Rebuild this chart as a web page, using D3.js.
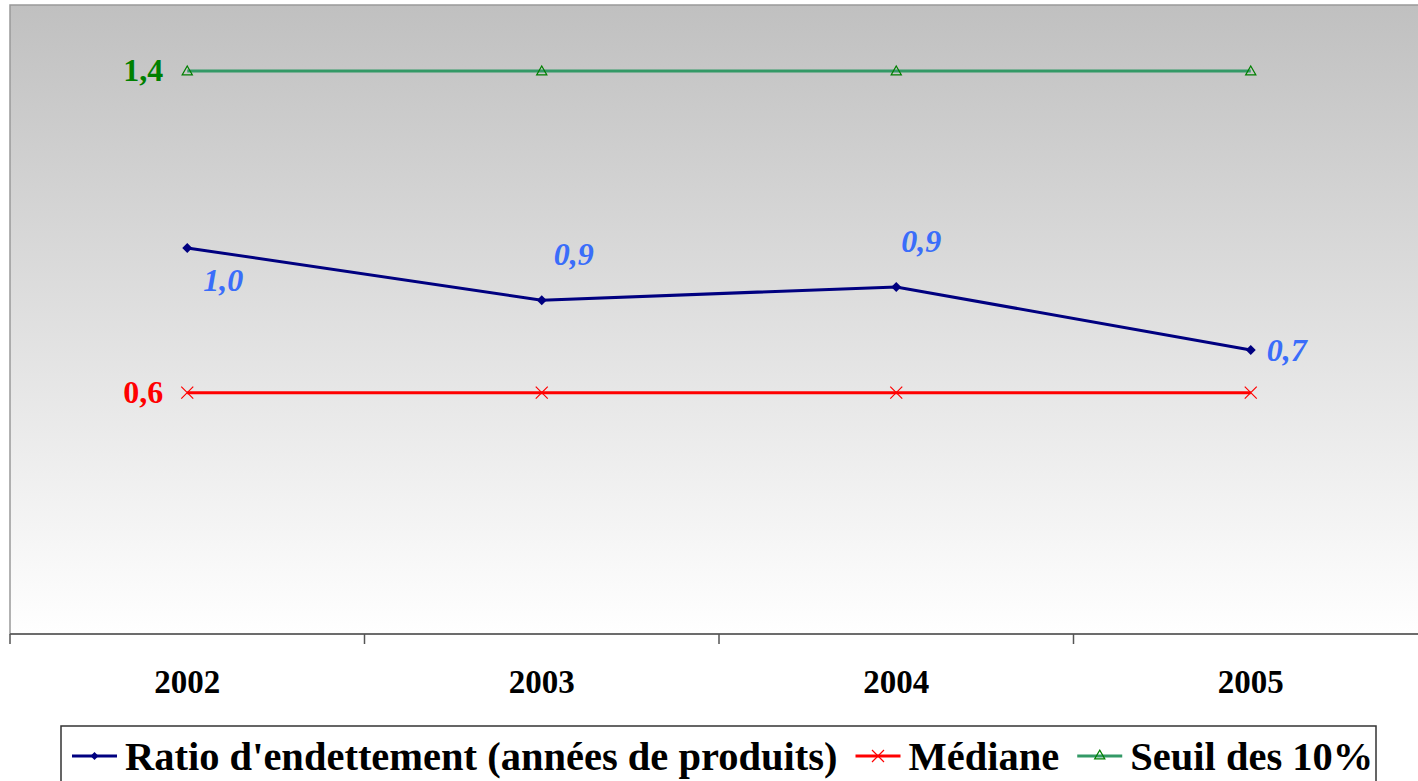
<!DOCTYPE html>
<html>
<head>
<meta charset="utf-8">
<script src="https://cdn.jsdelivr.net/npm/d3@7"></script>
<style>
  body { margin: 0; background: #ffffff; }
  svg { display: block; font-family: "Liberation Serif", "Times New Roman", serif; }
</style>
</head>
<body>
<div id="chart"></div>
<script>
// Data
const years = ["2002", "2003", "2004", "2005"];
const ratio = [0.96, 0.83, 0.863, 0.706];
const ratioLabels = ["1,0", "0,9", "0,9", "0,7"];
const ratioLabelSide = ["below", "above", "above", "right"];
const mediane = [0.6, 0.6, 0.6, 0.6];
const seuil = [1.4, 1.4, 1.4, 1.4];
const legendNames = ["Ratio d'endettement (années de produits)", "Médiane", "Seuil des 10%"];

const width = 1418, height = 781;
const plot = { left: 10, right: 1428, top: 5, bottom: 634 };

const svg = d3.select("#chart").append("svg")
    .attr("width", width)
    .attr("height", height);

// background gradient of the plot area
const grad = svg.append("defs").append("linearGradient")
    .attr("id", "bg")
    .attr("x1", 0).attr("y1", 0).attr("x2", 0).attr("y2", 1);
grad.append("stop").attr("offset", "0%").attr("stop-color", "#c0c0c0");
grad.append("stop").attr("offset", "100%").attr("stop-color", "#ffffff");

const x = d3.scaleBand().domain(years).range([plot.left, plot.right]);
const y = d3.scaleLinear().domain([0, 1.564]).range([plot.bottom, plot.top]);
const cx = d => x(d) + x.bandwidth() / 2;

svg.append("rect")
    .attr("x", plot.left).attr("y", plot.top)
    .attr("width", plot.right - plot.left).attr("height", plot.bottom - plot.top)
    .attr("fill", "url(#bg)")
    .attr("stroke", "#999999")
    .attr("stroke-width", 1.5);

// x axis
const xAxis = svg.append("g")
    .attr("transform", "translate(0," + plot.bottom + ")");
xAxis.append("line")
    .attr("x1", plot.left).attr("x2", plot.right)
    .attr("stroke", "#555555").attr("stroke-width", 1.5);
xAxis.selectAll(".tick")
    .data(years)
    .join("line")
    .attr("x1", d => x(d)).attr("x2", d => x(d))
    .attr("y1", 0).attr("y2", 10)
    .attr("stroke", "#555555").attr("stroke-width", 1.5);
xAxis.selectAll(".year")
    .data(years)
    .join("text")
    .attr("x", d => cx(d))
    .attr("y", 59)
    .attr("text-anchor", "middle")
    .attr("font-size", 33)
    .attr("font-weight", "bold")
    .text(d => d);

const line = d3.line()
    .x((d, i) => cx(years[i]))
    .y(d => y(d));

// Seuil des 10%
svg.append("path")
    .datum(seuil)
    .attr("d", line)
    .attr("fill", "none")
    .attr("stroke", "#339966")
    .attr("stroke-width", 3);
const tri = d3.symbol().type(d3.symbolTriangle).size(45);
svg.selectAll(".tri")
    .data(seuil)
    .join("path")
    .attr("transform", (d, i) => "translate(" + cx(years[i]) + "," + (y(d) + 1) + ")")
    .attr("d", tri)
    .attr("fill", "none")
    .attr("stroke", "#008000")
    .attr("stroke-width", 1.2);
svg.append("text")
    .attr("x", cx(years[0]) - 24)
    .attr("y", y(seuil[0]) + 10)
    .attr("text-anchor", "end")
    .attr("font-size", 32)
    .attr("font-weight", "bold")
    .attr("fill", "#008000")
    .text("1,4");

// Médiane
svg.append("path")
    .datum(mediane)
    .attr("d", line)
    .attr("fill", "none")
    .attr("stroke", "#ff0000")
    .attr("stroke-width", 3);
svg.selectAll(".cross")
    .data(mediane)
    .join("path")
    .attr("transform", (d, i) => "translate(" + cx(years[i]) + "," + y(d) + ")")
    .attr("d", "M-6,-6L6,6M-6,6L6,-6")
    .attr("stroke", "#ff0000")
    .attr("stroke-width", 1.2);
svg.append("text")
    .attr("x", cx(years[0]) - 24)
    .attr("y", y(mediane[0]) + 10)
    .attr("text-anchor", "end")
    .attr("font-size", 32)
    .attr("font-weight", "bold")
    .attr("fill", "#ff0000")
    .text("0,6");

// Ratio d'endettement
svg.append("path")
    .datum(ratio)
    .attr("d", line)
    .attr("fill", "none")
    .attr("stroke", "#000080")
    .attr("stroke-width", 3);
svg.selectAll(".diamond")
    .data(ratio)
    .join("path")
    .attr("transform", (d, i) => "translate(" + cx(years[i]) + "," + y(d) + ")")
    .attr("d", "M0,-5L5,0L0,5L-5,0Z")
    .attr("fill", "#000080");
const labelOffset = { below: [36, 43], above: [32, -35], right: [16, 11] };
svg.selectAll(".vlabel")
    .data(ratio)
    .join("text")
    .attr("x", (d, i) => cx(years[i]) + labelOffset[ratioLabelSide[i]][0] - (i == 2 ? 7 : 0))
    .attr("y", (d, i) => y(d) + labelOffset[ratioLabelSide[i]][1])
    .attr("text-anchor", (d, i) => ratioLabelSide[i] == "right" ? "start" : "middle")
    .attr("font-size", 32)
    .attr("font-weight", "bold")
    .attr("font-style", "italic")
    .attr("fill", "#3a6dfa")
    .text((d, i) => ratioLabels[i]);

// Legend
const legend = svg.append("g");
legend.append("rect")
    .attr("x", 61).attr("y", 726)
    .attr("width", 1315).attr("height", 70)
    .attr("fill", "#ffffff")
    .attr("stroke", "#333333")
    .attr("stroke-width", 1.5);

const legendStyle = [
    { color: "#000080", marker: "diamond" },
    { color: "#ff0000", marker: "cross" },
    { color: "#339966", marker: "tri" }
];
let lx = 72;
const ly = 756;
legendNames.forEach((name, i) => {
    const g = legend.append("g").attr("transform", "translate(" + lx + "," + ly + ")");
    g.append("line")
        .attr("x1", 0).attr("x2", 45)
        .attr("stroke", legendStyle[i].color)
        .attr("stroke-width", 3);
    if (legendStyle[i].marker == "diamond") {
        g.append("path").attr("transform", "translate(22.5,0)")
            .attr("d", "M0,-4L4,0L0,4L-4,0Z").attr("fill", "#000080");
    } else if (legendStyle[i].marker == "cross") {
        g.append("path").attr("transform", "translate(22.5,0)")
            .attr("d", "M-6,-6L6,6M-6,6L6,-6")
            .attr("stroke", "#ff0000").attr("stroke-width", 1.2);
    } else {
        g.append("path").attr("transform", "translate(22.5,0)")
            .attr("d", tri).attr("fill", "none")
            .attr("stroke", "#008000").attr("stroke-width", 1.2);
    }
    const t = g.append("text")
        .attr("x", 53)
        .attr("y", 14)
        .attr("font-size", 40.5)
        .attr("font-weight", "bold")
        .text(name);
    lx += 53 + t.node().getComputedTextLength() + 18;
});
</script>
</body>
</html>
